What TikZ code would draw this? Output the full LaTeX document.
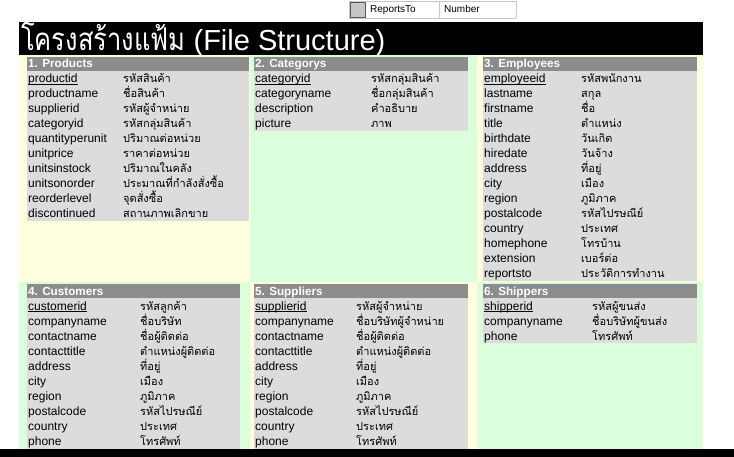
\documentclass[tikz,border=0pt]{standalone}
\usepackage{fontspec}
\setmainfont{Liberation Sans}
\newfontfamily\thaifont[Script=Thai]{Loma}
\definecolor{ybg}{HTML}{FFFFE0}
\definecolor{gbg}{HTML}{DBFFDB}
\definecolor{hdgray}{HTML}{8C8C8C}
\definecolor{boxgray}{HTML}{DCDCDC}
\definecolor{gridline}{HTML}{C8C8C8}
\newsavebox{\keybox}
\newcommand{\keyul}[1]{\sbox{\keybox}{#1}\rlap{\rule[-1.6pt]{\wd\keybox}{0.7pt}}\usebox{\keybox}}
\tikzset{
 fld/.style={anchor=base west, inner sep=0pt, font=\fontsize{12}{14}\selectfont},
 thaitxt/.style={anchor=base west, inner sep=0pt, font=\thaifont\fontsize{11}{13}\selectfont},
 hdtxt/.style={anchor=base west, inner sep=0pt, text=white, font=\bfseries\fontsize{11.7}{14}\selectfont},
 smalltxt/.style={anchor=base west, inner sep=0pt, font=\fontsize{10}{12}\selectfont},
 titletxt/.style={anchor=base west, inner sep=0pt, text=white, font=\fontsize{29}{32}\selectfont},
}
% box: x0, x1, ytop, ybot
\newcommand{\dbbox}[4]{%
 \fill[boxgray] (#1,#3) rectangle (#2,#4);
 \fill[hdgray] (#1,#3) rectangle (#2,#3+14);
}
% id, x0, ytop, thai x, title, key field, key thai, other rows
\newcommand{\dbrows}[8]{%
 \node[hdtxt] (#1-h) at (#2+1,#3+11) {#5};
 \node[fld] (#1-f0) at (#2+1,#3+26) {\keyul{#6}};
 \node[thaitxt] (#1-t0) at (#4,#3+26) {#7};
 \foreach \fname/\tname [count=\k] in {#8} {
   \node[fld] (#1-f\k) at (#2+1,#3+26+15*\k) {\fname};
   \node[thaitxt] (#1-t\k) at (#4,#3+26+15*\k) {\tname};
 }%
}
\begin{document}
\begin{tikzpicture}[x=1pt,y=-1pt]
\useasboundingbox (0,0) rectangle (734,457);
\fill[white] (0,0) rectangle (734,457);
% small table fragment at top
\fill[gray!45] (350,2) rectangle (365,17);
\draw[gray!70!black, line width=0.6pt] (350,2) rectangle (365,17);
\draw[gridline, line width=0.8pt] (349,1) -- (516,1) (349,18.5) -- (516,18.5)
  (349,1) -- (349,18.5) (439,1) -- (439,18.5) (516,1) -- (516,18.5);
\node[smalltxt] (rt) at (370,13) {ReportsTo};
\node[smalltxt] (num) at (444,13) {Number};
% title bar
\fill[black] (19,22) rectangle (703,55);
\node[titletxt] (title) at (21,51) {\scalebox{0.88}[1.08]{\thaifont โครงสร้างแฟ้ม} (File Structure)};
% cell backgrounds
\fill[ybg] (19,55) rectangle (250,282);
\fill[gbg] (250,55) rectangle (477,282);
\fill[ybg] (477,55) rectangle (703,282);
\fill[gbg] (19,282) rectangle (250,449);
\fill[ybg] (250,282) rectangle (477,449);
\fill[gbg] (477,282) rectangle (703,449);
% tables
\dbbox{27}{249}{57}{221}
\dbrows{prod}{27}{57}{123}{1. Products}{productid}{รหัสสินค้า}{productname/ชื่อสินค้า,supplierid/รหัสผู้จำหน่าย,categoryid/รหัสกลุ่มสินค้า,quantityperunit/ปริมาณต่อหน่วย,unitprice/ราคาต่อหน่วย,unitsinstock/ปริมาณในคลัง,unitsonorder/ประมาณที่กำลังสั่งซื้อ,reorderlevel/จุดสั่งซื้อ,discontinued/สถานภาพเลิกขาย}
\dbbox{254}{468}{57}{131}
\dbrows{cat}{254}{57}{371}{2. Categorys}{categoryid}{รหัสกลุ่มสินค้า}{categoryname/ชื่อกลุ่มสินค้า,description/คำอธิบาย,picture/ภาพ}
\dbbox{483}{697}{57}{281}
\dbrows{emp}{483}{57}{581}{3. Employees}{employeeid}{รหัสพนักงาน}{lastname/สกุล,firstname/ชื่อ,title/ตำแหน่ง,birthdate/วันเกิด,hiredate/วันจ้าง,address/ที่อยู่,city/เมือง,region/ภูมิภาค,postalcode/รหัสไปรษณีย์,country/ประเทศ,homephone/โทรบ้าน,extension/เบอร์ต่อ,reportsto/ประวัติการทำงาน}
\dbbox{27}{240}{284}{449}
\dbrows{cus}{27}{284}{140}{4. Customers}{customerid}{รหัสลูกค้า}{companyname/ชื่อบริษัท,contactname/ชื่อผู้ติดต่อ,contacttitle/ตำแหน่งผู้ติดต่อ,address/ที่อยู่,city/เมือง,region/ภูมิภาค,postalcode/รหัสไปรษณีย์,country/ประเทศ,phone/โทรศัพท์}
\dbbox{254}{468}{284}{449}
\dbrows{sup}{254}{284}{356}{5. Suppliers}{supplierid}{รหัสผู้จำหน่าย}{companyname/ชื่อบริษัทผู้จำหน่าย,contactname/ชื่อผู้ติดต่อ,contacttitle/ตำแหน่งผู้ติดต่อ,address/ที่อยู่,city/เมือง,region/ภูมิภาค,postalcode/รหัสไปรษณีย์,country/ประเทศ,phone/โทรศัพท์}
\dbbox{483}{697}{284}{343}
\dbrows{shp}{483}{284}{592}{6. Shippers}{shipperid}{รหัสผู้ขนส่ง}{companyname/ชื่อบริษัทผู้ขนส่ง,phone/โทรศัพท์}
% bottom bar
\fill[black] (0,449) rectangle (734,457);
\end{tikzpicture}
\end{document}
